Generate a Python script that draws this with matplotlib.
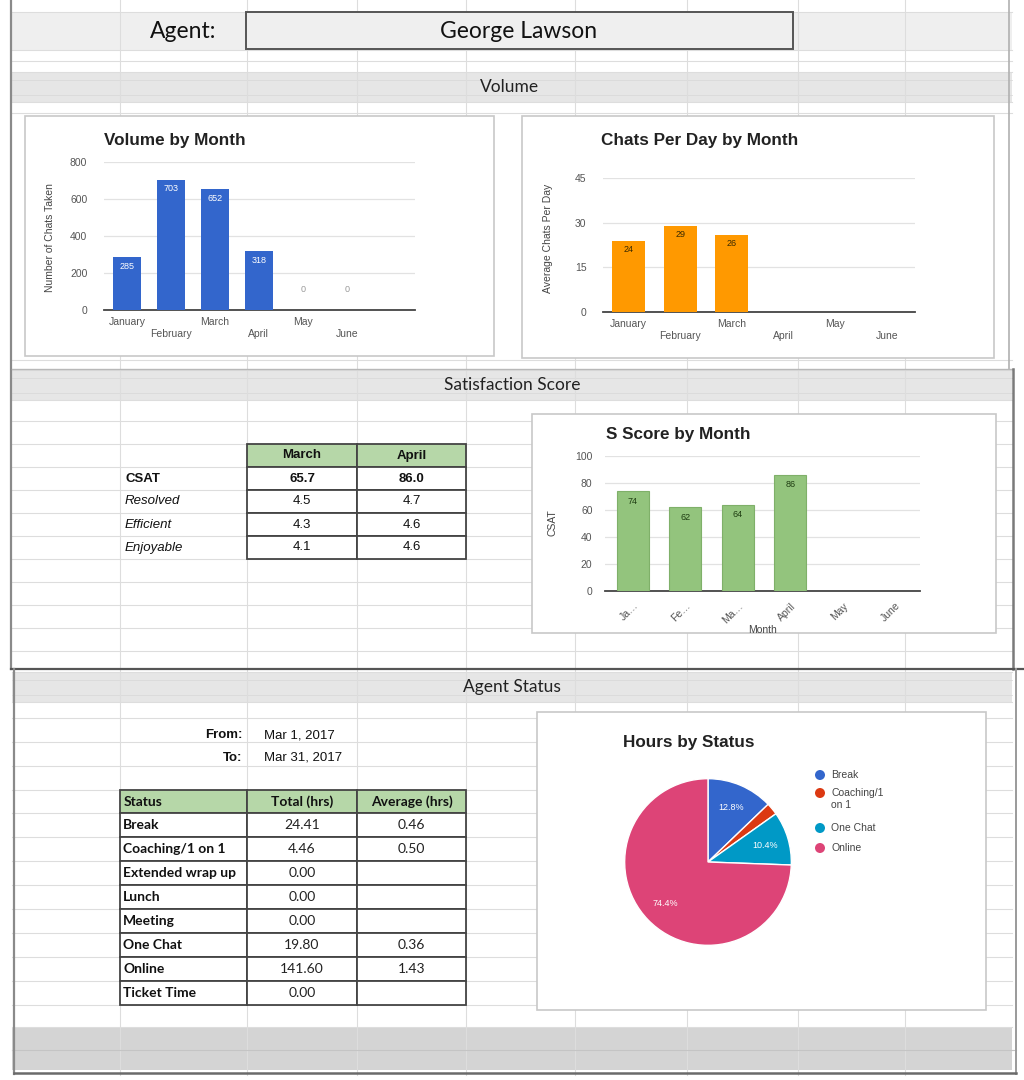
import matplotlib
matplotlib.use("Agg")
import matplotlib.pyplot as plt
from matplotlib.patches import Rectangle, Circle
import numpy as np

# ---------------- data ----------------
agent_name = "George Lawson"
months = ["January", "February", "March", "April", "May", "June"]
volume = [285, 703, 652, 318, 0, 0]
chats_per_day = [24, 29, 26, None, None, None]
s_months = ["Ja…", "Fe…", "Ma…", "April", "May", "June"]
s_score = [74, 62, 64, 86, None, None]

csat_cols = ["March", "April"]
csat_rows = ["CSAT", "Resolved", "Efficient", "Enjoyable"]
csat_march = [65.7, 4.5, 4.3, 4.1]
csat_april = [86.0, 4.7, 4.6, 4.6]

date_from = "Mar 1, 2017"
date_to = "Mar 31, 2017"
status_cols = ["Status", "Total (hrs)", "Average (hrs)"]
statuses = ["Break", "Coaching/1 on 1", "Extended wrap up", "Lunch", "Meeting",
            "One Chat", "Online", "Ticket Time"]
status_total = [24.41, 4.46, 0.00, 0.00, 0.00, 19.80, 141.60, 0.00]
status_avg = [0.46, 0.50, None, None, None, 0.36, 1.43, None]

pie_labels = ["Break", "Coaching/1\non 1", "One Chat", "Online"]
pie_values = [24.41, 4.46, 19.80, 141.60]
pie_colors = ["#3366CC", "#DC3912", "#0099C6", "#DD4477"]

# ---------------- figure ----------------
W, H = 1024, 1080
fig = plt.figure(figsize=(W / 100, H / 100), dpi=100)
fig.patch.set_facecolor("white")
bg = fig.add_axes([0, 0, 1, 1])
bg.set_xlim(0, W)
bg.set_ylim(H, 0)
bg.axis("off")

SHEET = ["Lato", "DejaVu Sans"]
ARIAL = ["Liberation Sans", "DejaVu Sans"]
GRID = "#dddddd"
TICK = 7.5


def pax(x0, y0, x1, y1):
    return fig.add_axes([x0 / W, 1 - y1 / H, (x1 - x0) / W, (y1 - y0) / H])


# spreadsheet grid
col_lines = [120, 247, 357, 466, 575, 687, 798, 905]
for x in col_lines:
    bg.plot([x, x], [0, 1075], color=GRID, lw=0.8, zorder=1)
row_lines = [12, 50, 61, 72, 102, 113, 360,
             370, 400, 421, 444, 467, 490, 513, 536, 559, 582, 605, 628, 651,
             672, 702, 718, 742, 766, 790] + [813 + 24 * k for k in range(9)] + [1027, 1050]
for y in row_lines:
    bg.plot([12, 1012], [y, y], color=GRID, lw=0.8, zorder=1)

# gray bands
bands = [(12, 50, "#efefef"), (72, 102, "#e6e6e6"), (370, 400, "#e6e6e6"),
         (672, 702, "#e6e6e6"), (1027, 1070, "#d4d4d4")]
for y0, y1, c in bands:
    bg.add_patch(Rectangle((12, y0), 1000, y1 - y0, facecolor=c, edgecolor="none", zorder=0.5))
for y in (87, 385, 687):
    bg.plot([12, 1012], [y - 7, y - 7], color="#dadada", lw=0.6, zorder=0.6)
    bg.plot([12, 1012], [y + 8, y + 8], color="#dadada", lw=0.6, zorder=0.6)
bg.plot([12, 1016], [1050, 1050], color="#c4c4c4", lw=0.8, zorder=1)

# section borders
bg.plot([11, 11], [0, 669], color="#8a8a8a", lw=1.6, zorder=3)
bg.plot([1009, 1009], [0, 369], color="#b0b0b0", lw=1.2, zorder=3)
bg.plot([12, 1013], [369, 369], color="#b8b8b8", lw=1.0, zorder=3)
bg.plot([1013, 1013], [369, 669], color="#7a7a7a", lw=1.8, zorder=3)
bg.plot([11, 1024], [669, 669], color="#555555", lw=1.6, zorder=3)
bg.plot([14, 14], [669, 1074], color="#8a8a8a", lw=1.6, zorder=3)
bg.plot([1016, 1016], [669, 1074], color="#9a9a9a", lw=1.4, zorder=3)
bg.plot([14, 1016], [1073, 1073], color="#6a6a6a", lw=1.8, zorder=3)

# header
bg.text(183, 32, "Agent:", fontsize=16.5, family=SHEET, ha="center", va="center", color="#111", zorder=4)
bg.add_patch(Rectangle((246, 12), 547, 37, facecolor="#efefef", edgecolor="#555555", lw=1.4, zorder=3))
bg.text(519, 32, agent_name, fontsize=16.5, family=SHEET, ha="center", va="center", color="#111", zorder=4)
bg.text(510, 87, "Volume", fontsize=12.5, family=SHEET, ha="center", va="center", color="#222", zorder=4)
bg.text(512, 385, "Satisfaction Score", fontsize=12.5, family=SHEET, ha="center", va="center", color="#222", zorder=4)
bg.text(512, 687, "Agent Status", fontsize=12.5, family=SHEET, ha="center", va="center", color="#222", zorder=4)

# chart boxes
chart_boxes = [(25, 116, 494, 356), (522, 116, 994, 358), (532, 414, 996, 633), (537, 712, 986, 1010)]
for x0, y0, x1, y1 in chart_boxes:
    bg.add_patch(Rectangle((x0, y0), x1 - x0, y1 - y0, facecolor="white",
                           edgecolor="#c8c8c8", lw=1.2, zorder=5))


def style_bar_axes(ax, yticks, ylim):
    ax.set_facecolor("none")
    ax.set_ylim(*ylim)
    ax.set_yticks(yticks)
    ax.grid(axis="y", color="#e2e2e2", lw=0.9)
    ax.set_axisbelow(True)
    for s in ("top", "right", "left"):
        ax.spines[s].set_visible(False)
    ax.spines["bottom"].set_color("#444444")
    ax.spines["bottom"].set_linewidth(1.3)
    ax.tick_params(length=0, labelsize=TICK, labelcolor="#555555", pad=5)
    for t in ax.get_yticklabels() + ax.get_xticklabels():
        t.set_family(ARIAL)


# ---- Volume by Month ----
ax1 = pax(104, 162, 415, 310)
x = np.arange(len(months))
ax1.bar(x, volume, width=0.64, color="#3366CC", zorder=3)
ax1.set_xlim(-0.52, 6.55)
ax1.set_xticks(x)
ax1.set_xticklabels([("\n" if i % 2 else "") + m for i, m in enumerate(months)], linespacing=1.3)
style_bar_axes(ax1, [0, 200, 400, 600, 800], (0, 800))
ax1.tick_params(axis="y", pad=12)
for i, v in enumerate(volume):
    if v > 0:
        ax1.annotate(str(v), (i, v), xytext=(0, -9), textcoords="offset pixels",
                     ha="center", va="center", fontsize=6.5, color="white", family=ARIAL, zorder=4)
    else:
        ax1.annotate(str(v), (i, 0), xytext=(0, 20), textcoords="offset pixels",
                     ha="center", va="center", fontsize=6.5, color="#999999", family=ARIAL, zorder=4)
bg.text(104, 140, "Volume by Month", fontsize=12.3, weight="bold", family=ARIAL, va="center", color="#222", zorder=6)
bg.text(50, 238, "Number of Chats Taken", fontsize=7.5, rotation=90, family=ARIAL, ha="center", va="center", color="#444", zorder=6)

# ---- Chats Per Day by Month ----
ax2 = pax(603, 178, 915, 312)
cpd = [np.nan if v is None else v for v in chats_per_day]
ax2.bar(x, cpd, width=0.64, color="#FF9900", zorder=3)
ax2.set_xlim(-0.5, 5.55)
ax2.set_xticks(x)
ax2.set_xticklabels([("\n" if i % 2 else "") + m for i, m in enumerate(months)], linespacing=1.3)
style_bar_axes(ax2, [0, 15, 30, 45], (0, 45))
ax2.tick_params(axis="y", pad=12)
for i, v in enumerate(chats_per_day):
    if v is not None:
        ax2.annotate(str(v), (i, v), xytext=(0, -9), textcoords="offset pixels",
                     ha="center", va="center", fontsize=6.5, color="#3a2a00", family=ARIAL, zorder=4)
bg.text(601, 140, "Chats Per Day by Month", fontsize=12.3, weight="bold", family=ARIAL, va="center", color="#222", zorder=6)
bg.text(548, 238, "Average Chats Per Day", fontsize=7.5, rotation=90, family=ARIAL, ha="center", va="center", color="#444", zorder=6)

# ---- S Score by Month ----
ax3 = pax(605, 456, 920, 591)
ss = [np.nan if v is None else v for v in s_score]
ax3.bar(x, ss, width=0.61, color="#93C47D", edgecolor="#7fb069", lw=0.8, zorder=3)
ax3.set_xlim(-0.53, 5.47)
ax3.set_xticks(x)
ax3.set_xticklabels(s_months, rotation=45, ha="right", rotation_mode="anchor")
style_bar_axes(ax3, [0, 20, 40, 60, 80, 100], (0, 100))
ax3.tick_params(axis="y", pad=9)
ax3.tick_params(axis="x", pad=7)
for i, v in enumerate(s_score):
    if v is not None:
        ax3.annotate(str(v), (i, v), xytext=(0, -10), textcoords="offset pixels",
                     ha="center", va="center", fontsize=6.5, color="#1f3d12", family=ARIAL, zorder=4)
ax3.set_xlabel("Month", fontsize=7.5, color="#444", family=ARIAL, labelpad=0)
bg.text(606, 435, "S Score by Month", fontsize=12.3, weight="bold", family=ARIAL, va="center", color="#222", zorder=6)
bg.text(553, 523, "CSAT", fontsize=7.5, rotation=90, family=ARIAL, ha="center", va="center", color="#444", zorder=6)

# ---- CSAT table ----
CS = 9.5
cx = [247, 357, 466]
cy = [444, 467, 490, 513, 536, 559]
for j, name in enumerate(csat_cols):
    bg.add_patch(Rectangle((cx[j], cy[0]), cx[j + 1] - cx[j], cy[1] - cy[0],
                           facecolor="#b6d7a8", edgecolor="#444444", lw=1.3, zorder=6))
    bg.text((cx[j] + cx[j + 1]) / 2, (cy[0] + cy[1]) / 2, name, fontsize=CS, weight="bold",
            family=ARIAL, ha="center", va="center", color="#111", zorder=7)
for i, rname in enumerate(csat_rows):
    ymid = (cy[i + 1] + cy[i + 2]) / 2
    bold = i == 0
    bg.text(125, ymid, rname, fontsize=CS, family=ARIAL, ha="left", va="center", color="#111",
            weight="bold" if bold else "normal", style="normal" if bold else "italic", zorder=7)
    for j, vals in enumerate([csat_march, csat_april]):
        bg.add_patch(Rectangle((cx[j], cy[i + 1]), cx[j + 1] - cx[j], cy[i + 2] - cy[i + 1],
                               facecolor="white", edgecolor="#444444", lw=1.3, zorder=6))
        bg.text((cx[j] + cx[j + 1]) / 2, ymid, f"{vals[i]:.1f}", fontsize=CS, family=ARIAL,
                ha="center", va="center", color="#111", weight="bold" if bold else "normal", zorder=7)

# ---- From / To ----
FS = 9.5
bg.text(242, 735, "From:", fontsize=FS, weight="bold", family=ARIAL, ha="right", va="center", color="#111", zorder=7)
bg.text(264, 735, date_from, fontsize=FS, family=ARIAL, ha="left", va="center", color="#111", zorder=7)
bg.text(242, 758, "To:", fontsize=FS, weight="bold", family=ARIAL, ha="right", va="center", color="#111", zorder=7)
bg.text(264, 758, date_to, fontsize=FS, family=ARIAL, ha="left", va="center", color="#111", zorder=7)

# ---- Status table ----
SS = 10
sx = [120, 247, 357, 466]
sy = [790] + [813 + 24 * k for k in range(len(statuses) + 1)]
for j, name in enumerate(status_cols):
    bg.add_patch(Rectangle((sx[j], sy[0]), sx[j + 1] - sx[j], sy[1] - sy[0],
                           facecolor="#b6d7a8", edgecolor="#444444", lw=1.3, zorder=6))
    bg.text(sx[j] + 4 if j == 0 else (sx[j] + sx[j + 1]) / 2, (sy[0] + sy[1]) / 2, name,
            fontsize=SS, weight="bold", family=SHEET, ha="left" if j == 0 else "center",
            va="center", color="#111", zorder=7)
for i, st in enumerate(statuses):
    y0, y1 = sy[i + 1], sy[i + 2]
    ymid = (y0 + y1) / 2
    cells = [st, f"{status_total[i]:.2f}", "" if status_avg[i] is None else f"{status_avg[i]:.2f}"]
    for j, txt in enumerate(cells):
        bg.add_patch(Rectangle((sx[j], y0), sx[j + 1] - sx[j], y1 - y0,
                               facecolor="white", edgecolor="#444444", lw=1.3, zorder=6))
        if j == 0:
            bg.text(sx[j] + 3, ymid, txt, fontsize=SS, weight="bold", family=SHEET,
                    ha="left", va="center", color="#111", zorder=7)
        else:
            bg.text((sx[j] + sx[j + 1]) / 2, ymid, txt, fontsize=SS, family=SHEET,
                    ha="center", va="center", color="#222", zorder=7)

# ---- Pie ----
ax4 = pax(623, 777, 793, 947)
ax4.pie(pie_values, colors=pie_colors, startangle=90, counterclock=False, radius=1,
        wedgeprops=dict(edgecolor="white", linewidth=1),
        autopct=lambda p: f"{p:.1f}%" if p >= 5 else "", pctdistance=0.71,
        textprops=dict(color="white", fontsize=6.5, family=ARIAL))
ax4.set_xlim(-1.02, 1.02)
ax4.set_ylim(-1.02, 1.02)
ax4.set_aspect("equal")
ax4.axis("off")
bg.text(623, 742, "Hours by Status", fontsize=12.3, weight="bold", family=ARIAL, va="center", color="#222", zorder=6)
leg_y = [775, 793, 828, 848]
for lab, c, y in zip(pie_labels, pie_colors, leg_y):
    bg.add_patch(Circle((820, y), 5, facecolor=c, edgecolor="none", zorder=7))
    bg.text(831, y - 5, lab, fontsize=7.5, family=ARIAL, ha="left", va="top", color="#444",
            linespacing=1.25, zorder=7)

fig.savefig("out.png", dpi=100, facecolor="white")
